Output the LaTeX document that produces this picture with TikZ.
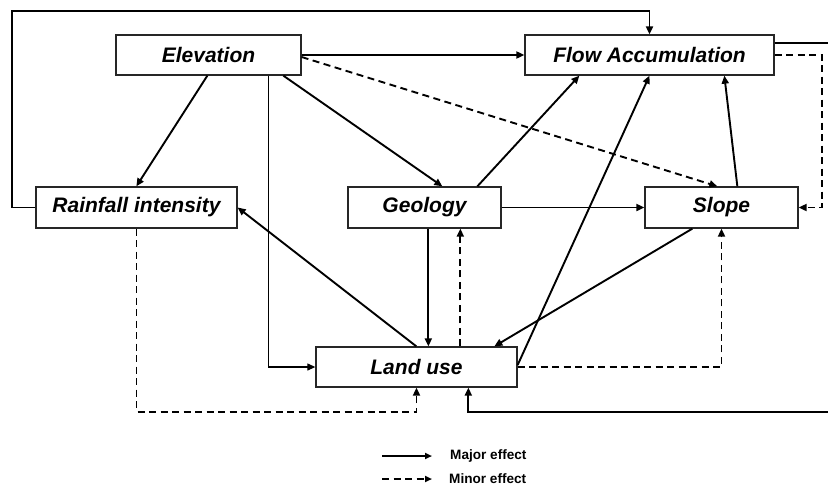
\documentclass[tikz,border=0pt]{standalone}
\usepackage{fontspec}
\setmainfont{Liberation Sans}
\usetikzlibrary{arrows.meta,calc}
\tikzset{
  box/.style={draw=black!85, line width=1.3pt, rectangle, inner sep=0pt, font=\fontsize{21}{25}\selectfont\bfseries\itshape},
  major/.style={line width=1.9pt, -{Triangle[length=8pt,width=7pt]}},
  thinmajor/.style={line width=1.2pt, -{Triangle[length=8pt,width=7pt]}},
  minor/.style={line width=1.9pt, dash pattern=on 7pt off 4.5pt, -{Triangle[length=8pt,width=7pt]}},
  legmajor/.style={line width=1.9pt, -{Triangle[length=7pt,width=6pt]}},
  legminor/.style={line width=1.9pt, dash pattern=on 7pt off 4.5pt, -{Triangle[length=7pt,width=6pt]}},
  legtext/.style={anchor=west, inner sep=0pt, font=\fontsize{13.6}{15}\selectfont\bfseries}
}
\begin{document}
\begin{tikzpicture}[x=1pt,y=-1pt]
\useasboundingbox (0,0) rectangle (828,488);
% nodes
\node[box, minimum width=185pt, minimum height=40pt] (elev) at (208.5,55) {Elevation};
\node[box, minimum width=249pt, minimum height=40pt] (fa) at (649.5,55) {Flow Accumulation};
\node[box, minimum width=201pt, minimum height=41pt] (rain) at (136.5,207.5) {Rainfall intensity};
\node[box, minimum width=153pt, minimum height=41pt] (geo) at (424.5,207.5) {Geology};
\node[box, minimum width=153pt, minimum height=41pt] (slope) at (721.5,207.5) {Slope};
\node[box, minimum width=201pt, minimum height=40pt] (land) at (416.5,367) {Land use};
% edges from Elevation
\draw[major] (elev.east) -- (fa.west);
\draw[minor] ($(elev.east)+(0,2)$) -- ($(slope.north west)+(73,0)$);
\draw[major] ($(elev.south west)+(92,0)$) -- ($(rain.north west)+(101,0)$);
\draw[major] ($(elev.south west)+(168,0)$) -- ($(geo.north west)+(95,0)$);
\draw[thinmajor] ($(elev.south west)+(153,0)$) |- (land.west);
% Rainfall
\coordinate (rcorner) at (12,11);
\draw[major] (rain.west) -| (rcorner) -| (fa.north);
\draw[minor] (rain.south) |- ($(land.south)+(0,24)$) -- (land.south);
% Geology
\draw[major] ($(geo.north west)+(130,0)$) -- ($(fa.south west)+(55,0)$);
\draw[major] (geo.east) -- (slope.west);
\draw[major] ($(geo.south west)+(81,0)$) -- ($(land.north west)+(113,0)$);
% Land use
\draw[minor] ($(land.north west)+(145,0)$) -- ($(geo.south west)+(113,0)$);
\draw[major] ($(land.north west)+(101,0)$) -- (rain.east);
\draw[major] ($(land.east)+(0,-2)$) -- (fa.south);
\draw[minor] (land.east) -| (slope.south);
% Slope
\draw[major] ($(slope.north west)+(93,0)$) -- ($(fa.south west)+(200,0)$);
\draw[major] ($(slope.south west)+(48,0)$) -- ($(land.north west)+(179,0)$);
% Flow accumulation
\coordinate (fcorner) at (834,43);
\coordinate (fcorner2) at (834,412);
\draw[major] ($(fa.east)+(0,-12)$) -- (fcorner) -- (fcorner2) -| ($(land.south west)+(153,0)$);
\coordinate (dcorner) at (822,55);
\draw[minor] (fa.east) -- (dcorner) |- (slope.east);
% legend
\coordinate (l1a) at (382,456);
\coordinate (l1b) at (432,456);
\coordinate (l2a) at (382,479);
\coordinate (l2b) at (432,479);
\draw[legmajor] (l1a) -- (l1b);
\draw[legminor] (l2a) -- (l2b);
\node[legtext] (leg1) at (450,456) {Major effect};
\node[legtext] (leg2) at (449,479) {Minor effect};
\end{tikzpicture}
\end{document}
